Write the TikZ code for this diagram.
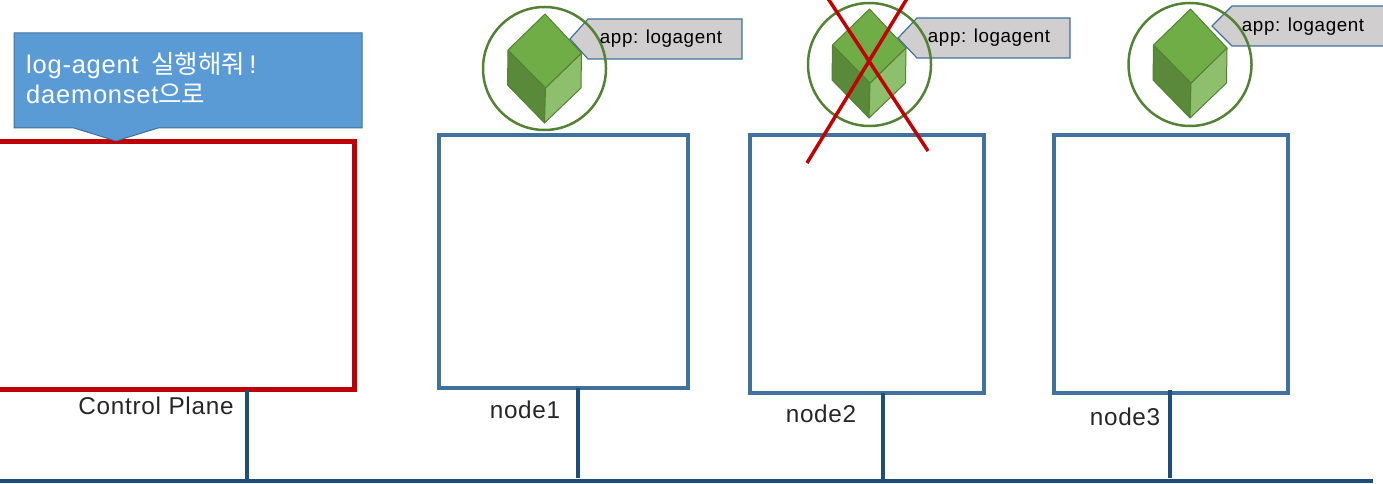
\documentclass[tikz,border=0pt]{standalone}
\usepackage{fontspec}
\setmainfont[LetterSpace=3]{Liberation Sans}
\newfontfamily\cjk{Noto Sans CJK KR}
\usetikzlibrary{positioning}

\definecolor{redline}{HTML}{C00000}
\definecolor{boxline}{HTML}{41719C}
\definecolor{busline}{HTML}{1F4E79}
\definecolor{msgfill}{HTML}{5B9BD5}
\definecolor{tagfill}{HTML}{D0CECE}
\definecolor{podline}{HTML}{548235}
\definecolor{cubetop}{HTML}{70AD47}
\definecolor{cubeside}{HTML}{8DBF6C}
\definecolor{cubeleft}{HTML}{5A8A39}

\tikzset{
	master box/.style={draw=redline,line width=5pt,inner sep=0pt,outer sep=0pt},
	worker box/.style={draw=boxline,line width=4.5pt,inner sep=0pt,outer sep=0pt},
	bus/.style={draw=busline,line width=4pt},
	cross/.style={draw=redline,line width=3.5pt},
	box label/.style={font=\fontsize{24.3}{24}\selectfont,text=black!85,inner sep=0pt},
	msg text/.style={anchor=base west,text=white,font=\fontsize{25.5}{26}\selectfont,inner sep=0pt},
	tag text/.style={font=\fontsize{18.8}{19}\selectfont,text=black,inner sep=0pt},
	tag/.style={draw=boxline,line width=1.2pt,fill=tagfill},
	pod ring/.style={circle,draw=podline,line width=2.5pt,minimum size=123pt,inner sep=0pt},
	cube/.pic={
		\draw[podline,line width=1pt,fill=cubeleft,line join=round] (-36.5,-19) -- (1,19) -- (0,54) -- (-37,16) -- cycle;
		\draw[podline,line width=1pt,fill=cubeside,line join=round] (1,19) -- (37,-16) -- (36.5,19) -- (0,54) -- cycle;
		\draw[podline,line width=1pt,fill=cubetop,line join=round] (0.5,-55) -- (37,-16) -- (1,19) -- (-36.5,-19) -- cycle;
	}
}

\begin{document}
\begin{tikzpicture}[x=1pt,y=-1pt]
  \useasboundingbox (0,0) rectangle (1383,484);

  % boxes
  \node[master box,minimum width=364pt,minimum height=248pt] (plane) at (172,265.5) {};
  \node[worker box,minimum width=249pt,minimum height=253pt] (node1) at (563.5,261.5) {};
  \node[worker box,minimum width=234pt,minimum height=258pt] (node2) at (867,264) {};
  \node[worker box,minimum width=234pt,minimum height=258pt] (node3) at (1171,264) {};

  % message
  \draw[draw=boxline,line width=1pt,fill=msgfill] (14,33) -- (362,33) -- (362,128) -- (158,128)
    -- (116,141) -- (74,128) -- (14,128) -- cycle;
  \node[msg text] (msg1) at (26,74) {log-agent\hspace{5pt} {\cjk 실행해줘}\hspace{4pt}!};
  \node[msg text] (msg2) at (26,104) {daemonset{\cjk 으로}};

  % tags
  \draw[tag] (570,39) -- (588,19) -- (742,19) -- (742,59) -- (588,59) -- cycle;
  \draw[tag] (898,38) -- (917,18) -- (1070,18) -- (1070,58) -- (917,58) -- cycle;
  \draw[tag] (1212,26) -- (1232,6) -- (1390,6) -- (1390,46) -- (1232,46) -- cycle;

  % pods
  \node[pod ring] (pod1) at (544.5,68.5) {};
  \node[pod ring] (pod2) at (869.5,64.5) {};
  \node[pod ring] (pod3) at (1190,64.5) {};
  \pic at (544.5,69) {cube};
  \pic at (869,64) {cube};
  \pic at (1190,64) {cube};

  \node[tag text] (tag1) at (661,39) {app: logagent};
  \node[tag text] (tag2) at (989,38) {app: logagent};
  \node[tag text] (tag3) at (1303,27) {app: logagent};

  \draw[cross] (827,-3) -- (928,151);
  \draw[cross] (908,-3) -- (807,163);

  % network
  \coordinate (busleft) at (0,481);
  \coordinate (busright) at (1373,481);
  \coordinate (tap0) at (247,481);
  \coordinate (tap1) at (578,478);
  \coordinate (tap2) at (883,481);
  \coordinate (tap3) at (1170,478);
  \draw[bus,line width=4.5pt] (busleft) -- (busright);
  \draw[bus] (plane.south -| tap0) -- (tap0);
  \draw[bus] (node1.south -| tap1) -- (tap1);
  \draw[bus] (node2.south -| tap2) -- (tap2);
  \draw[bus] ([yshift=3pt]node3.south -| tap3) -- (tap3);

  \node[box label] (planelabel) at (156,406) {Control Plane};
  \node[box label] (label1) at (525,410) {node1};
  \node[box label] (label2) at (821,414) {node2};
  \node[box label] (label3) at (1125,417) {node3};
\end{tikzpicture}
\end{document}
